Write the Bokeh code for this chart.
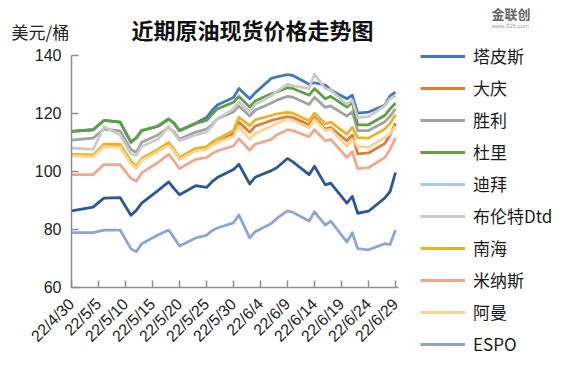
import datetime as dt
import math
from bokeh.plotting import figure
from bokeh.models import Legend, LegendItem, FixedTicker, DatetimeTickFormatter, Range1d, Label
from bokeh.embed import file_html
from bokeh.resources import INLINE

# ---------------- data ----------------
dates = ["2022-04-30", "2022-05-04", "2022-05-06", "2022-05-09", "2022-05-11", "2022-05-12",
         "2022-05-13", "2022-05-16", "2022-05-18", "2022-05-19", "2022-05-20", "2022-05-23",
         "2022-05-25", "2022-05-26", "2022-05-27", "2022-05-30", "2022-05-31", "2022-06-02",
         "2022-06-03", "2022-06-06", "2022-06-07", "2022-06-09", "2022-06-10", "2022-06-13",
         "2022-06-14", "2022-06-16", "2022-06-17", "2022-06-20", "2022-06-21", "2022-06-22",
         "2022-06-24", "2022-06-27", "2022-06-28", "2022-06-29"]

tapis = [113.7, 114.3, 117.5, 116.9, 110.0, 111.5, 114.0, 115.5, 118.0, 116.5, 114.0, 116.5,
         118.5, 120.9, 122.8, 125.4, 128.5, 125.0, 127.0, 132.0, 132.5, 133.3, 133.0, 130.0,
         130.5, 129.7, 128.0, 125.0, 126.2, 120.0, 120.4, 122.7, 126.0, 127.3]
daqing = [105.5, 105.3, 108.8, 108.5, 103.0, 101.3, 104.0, 107.0, 109.5, 107.0, 104.3, 107.5,
          108.0, 109.0, 110.0, 113.0, 117.0, 113.4, 115.5, 117.5, 118.0, 118.8, 118.5, 116.0,
          118.5, 114.5, 115.0, 110.5, 112.5, 106.0, 106.3, 109.5, 112.5, 116.5]
shengli = [110.7, 111.4, 114.5, 113.9, 107.5, 106.5, 110.0, 112.5, 115.0, 113.5, 111.0, 113.5,
           114.5, 116.0, 118.0, 120.5, 122.5, 119.0, 121.0, 123.5, 124.5, 125.8, 125.5, 123.0,
           125.5, 122.0, 122.5, 119.0, 120.5, 114.0, 114.0, 117.0, 119.0, 121.5]
duri = [113.7, 114.3, 117.5, 116.9, 110.0, 111.5, 114.0, 115.5, 118.0, 116.5, 114.0, 116.5,
        117.5, 119.5, 121.5, 123.8, 125.8, 122.1, 124.2, 126.7, 127.3, 128.8, 128.5, 126.2,
        128.5, 125.0, 125.8, 122.1, 123.8, 116.0, 116.0, 119.2, 121.5, 123.5]
dubai = [86.3, 87.6, 90.7, 90.9, 84.8, 86.5, 89.0, 93.3, 96.3, 94.0, 91.9, 95.0,
         94.4, 96.3, 97.8, 100.6, 102.4, 95.6, 97.9, 100.2, 101.2, 104.4, 103.2, 98.8,
         101.7, 95.3, 95.9, 89.0, 91.3, 85.5, 86.2, 90.7, 93.0, 99.5]
brent = [108.0, 107.5, 115.3, 112.5, 106.0, 105.5, 108.5, 111.0, 115.5, 113.0, 110.5, 112.5,
         113.5, 115.5, 118.0, 121.5, 124.0, 120.5, 123.0, 126.0, 127.5, 130.0, 129.5, 128.5,
         133.5, 128.5, 128.0, 123.0, 124.5, 118.5, 118.8, 122.5, 125.0, 126.0]
nanhai = [105.8, 105.6, 109.3, 109.3, 103.5, 101.7, 104.4, 107.5, 109.9, 107.5, 104.7, 107.9,
          108.4, 110.0, 111.0, 114.0, 118.6, 115.7, 117.7, 119.2, 119.8, 120.3, 120.0, 117.4,
          120.0, 116.3, 116.9, 112.8, 115.1, 111.6, 111.4, 114.5, 116.5, 119.5]
minas = [98.8, 98.8, 102.3, 102.3, 97.5, 96.5, 99.4, 103.0, 105.8, 103.5, 100.9, 104.1,
         104.7, 106.0, 107.0, 108.7, 111.2, 107.2, 109.3, 111.0, 112.5, 114.3, 114.0, 111.9,
         114.3, 110.5, 111.0, 104.7, 106.7, 100.9, 101.2, 104.7, 107.5, 111.5]
oman = [105.3, 105.0, 108.5, 108.3, 102.5, 101.0, 103.8, 106.8, 109.0, 106.8, 104.0, 107.0,
        107.5, 108.8, 110.0, 112.0, 115.5, 111.0, 113.0, 115.5, 116.5, 118.0, 117.5, 115.0,
        117.8, 114.0, 114.5, 108.5, 111.0, 108.5, 108.3, 111.5, 113.0, 115.5]
espo = [78.8, 78.8, 79.7, 79.7, 73.3, 72.2, 75.0, 78.0, 79.7, 77.0, 74.2, 77.0,
        77.9, 79.5, 80.4, 82.2, 84.9, 77.0, 79.1, 82.0, 83.7, 86.3, 85.8, 82.8,
        86.0, 81.4, 82.8, 75.6, 78.8, 73.3, 72.9, 75.0, 74.7, 79.7]

names = ["塔皮斯", "大庆", "胜利", "杜里", "迪拜", "布伦特Dtd", "南海", "米纳斯", "阿曼", "ESPO"]
values = [tapis, daqing, shengli, duri, dubai, brent, nanhai, minas, oman, espo]
line_colors = ["#4378BD", "#E27A36", "#A2A2A2", "#5E9E45", "#2D5597", "#CACACA",
               "#E8B325", "#F2A78C", "#F8D592", "#8FA4D2"]
legend_colors = ["#4378BD", "#E27A36", "#A2A2A2", "#5E9E45", "#A9C8E8", "#CACACA",
                 "#E8B325", "#F2A78C", "#F8D592", "#8FA4D2"]

y_ticks = [60, 80, 100, 120, 140]
tick_dates = ["2022-04-30", "2022-05-05", "2022-05-10", "2022-05-15", "2022-05-20",
              "2022-05-25", "2022-05-30", "2022-06-04", "2022-06-09", "2022-06-14",
              "2022-06-19", "2022-06-24", "2022-06-29"]

title_text = "近期原油现货价格走势图"
unit_text = "美元/桶"
logo_text = "金联创"
logo_url = "www.315.com"

# ---------------- layout ----------------
W, H = 559, 357
AX_X0 = 71.0      # px of first date (2022-04-30)
PX_DAY = 5.4      # px per calendar day
AX_Y60 = 286.7    # px of value 60
PX_UNIT = 2.9     # px per value unit
EPOCH = dt.datetime(1970, 1, 1)
DAY_MS = 86400000.0


def ms(d):
    return (d - EPOCH).total_seconds() * 1000.0


def parse(s):
    return dt.datetime.strptime(s, "%Y-%m-%d")


xs = [parse(s) for s in dates]
t0 = ms(parse("2022-04-30"))
x_lo = t0 - AX_X0 / PX_DAY * DAY_MS
x_hi = x_lo + W / PX_DAY * DAY_MS
y_lo = 60 - (H - AX_Y60) / PX_UNIT
y_hi = 60 + AX_Y60 / PX_UNIT


def xd(px):
    return x_lo + px / PX_DAY * DAY_MS


def yd(py):
    return y_hi - py / PX_UNIT


p = figure(width=W, height=H, x_axis_type="datetime",
           x_range=Range1d(x_lo, x_hi), y_range=Range1d(y_lo, y_hi),
           output_backend="svg", toolbar_location=None,
           min_border=0, min_border_left=0, min_border_right=0,
           min_border_top=0, min_border_bottom=0)
p.outline_line_color = None
p.grid.visible = False
p.background_fill_color = "white"
p.border_fill_color = "white"

xaxis = p.xaxis[0]
yaxis = p.yaxis[0]
xaxis.fixed_location = 60
yaxis.fixed_location = t0
xaxis.bounds = (t0, t0 + 60.55 * DAY_MS)
yaxis.bounds = (60, 140)

for ax in (xaxis, yaxis):
    ax.axis_line_color = "#8E8E8E"
    ax.axis_line_width = 1.5
    ax.major_tick_line_color = "#8E8E8E"
    ax.major_tick_line_width = 1.5
    ax.major_tick_in = 7
    ax.major_tick_out = 0
    ax.minor_tick_line_color = None
    ax.major_label_text_color = "#222222"

yaxis.ticker = FixedTicker(ticks=y_ticks)
yaxis.major_label_text_font = "Liberation Sans"
yaxis.major_label_text_font_size = "16px"
yaxis.major_label_standoff = 10

xaxis.ticker = FixedTicker(ticks=[ms(parse(s)) for s in tick_dates])
fmt = "%y/%-m/%-d"
xaxis.formatter = DatetimeTickFormatter(days=fmt, months=fmt, years=fmt, hours=fmt,
                                        minutes=fmt, seconds=fmt, milliseconds=fmt,
                                        microseconds=fmt, minsec=fmt, hourmin=fmt)
xaxis.major_label_orientation = math.pi / 4
xaxis.major_label_text_font = "Liberation Sans"
xaxis.major_label_text_font_size = "16px"
xaxis.major_label_standoff = 14

items = []
for name, vals, lc, gc in zip(names, values, line_colors, legend_colors):
    r = p.line(xs, vals, line_color=lc, line_width=2.8, line_join="round")
    if lc == gc:
        items.append(LegendItem(label=name, renderers=[r]))
    else:
        # legend swatch colour differs from the drawn line in the reference
        dummy = p.line(xs, [float("nan")] * len(xs), line_color=gc, line_width=2.8)
        items.append(LegendItem(label=name, renderers=[dummy]))

legend = Legend(items=items, location=(420, 1), orientation="vertical",
                glyph_width=45, glyph_height=20, label_height=20, spacing=7,
                label_standoff=8, padding=0, margin=0,
                border_line_color=None, background_fill_alpha=0,
                label_text_font="Noto Sans CJK SC", label_text_font_size="17px",
                label_text_color="#1A1A1A")
p.add_layout(legend, "center")

p.add_layout(Label(x=xd(252), y=yd(28), text=title_text, text_align="center",
                   text_baseline="middle", text_font="Noto Sans CJK SC",
                   text_font_size="22px", text_font_style="bold", text_color="#111111"))
p.add_layout(Label(x=xd(11), y=yd(31), text=unit_text, text_align="left",
                   text_baseline="middle", text_font="Noto Sans CJK SC",
                   text_font_size="17px", text_color="#222222"))
p.add_layout(Label(x=xd(491), y=yd(13), text=logo_text, text_align="left",
                   text_baseline="middle", text_font="Noto Sans CJK SC",
                   text_font_size="13px", text_font_style="bold", text_color="#666666"))
p.add_layout(Label(x=xd(491), y=yd(25), text=logo_url, text_align="left",
                   text_baseline="middle", text_font="Liberation Sans",
                   text_font_size="6px", text_color="#999999"))

open("out.html", "w").write(file_html(p, INLINE))
